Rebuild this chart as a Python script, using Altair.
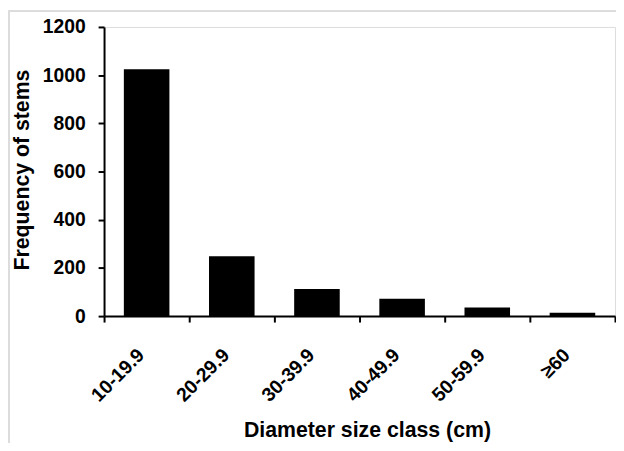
import altair as alt
import pandas as pd

classes = ["10-19.9", "20-29.9", "30-39.9", "40-49.9", "50-59.9", "≥60"]
stems = [1025, 248, 112, 72, 36, 14]
y_ticks = [0, 200, 400, 600, 800, 1000, 1200]

df = pd.DataFrame({"cls": classes, "n": stems})

FONT = "Liberation Sans"

bars = alt.Chart(df).mark_bar(color="black", width=alt.RelativeBandSize(0.535)).encode(
    x=alt.X(
        "cls:N",
        sort=classes,
        scale=alt.Scale(paddingInner=0, paddingOuter=0),
        axis=alt.Axis(
            title="Diameter size class (cm)",
            titleFont=FONT,
            titleFontSize=21.5,
            titleFontWeight="bold",
            titleColor="black",
            titleX=265.5,
            titleY=121.5,
            titleBaseline="alphabetic",
            labelFont=FONT,
            labelFontSize=19.5,
            labelFontWeight="bold",
            labelColor="black",
            labelAngle=-45,
            labelAlign="right",
            labelBaseline="middle",
            labelPadding=30,
            labelOffset=-6,
            tickBand="extent",
            tickSize=6,
            tickWidth=2,
            tickColor="black",
            domainColor="black",
            domainWidth=2,
            grid=False,
        ),
    ),
    y=alt.Y(
        "n:Q",
        scale=alt.Scale(domain=[0, 1200], nice=False),
        axis=alt.Axis(
            title="Frequency of stems",
            values=y_ticks,
            format="d",
            titleFont=FONT,
            titleFontSize=21.5,
            titleFontWeight="bold",
            titleColor="black",
            titleAngle=-90,
            titleX=-76,
            titleY=144,
            titleAlign="center",
            titleBaseline="alphabetic",
            labelFont=FONT,
            labelFontSize=19.5,
            labelFontWeight="bold",
            labelColor="black",
            labelPadding=13,
            tickSize=6,
            tickWidth=2,
            tickColor="black",
            domainColor="black",
            domainWidth=2,
            grid=False,
        ),
    ),
)

border = alt.Chart(df).mark_rule(color="#dcdcdc", strokeWidth=1.5).encode(
    x=alt.value(-96.25), x2=alt.value(520), y=alt.value(-16.25)
) + alt.Chart(df).mark_rule(color="#dcdcdc", strokeWidth=1.5).encode(
    x=alt.value(-96.25), y=alt.value(-16.25), y2=alt.value(420)
)

chart = (border + bars).properties(
    width=516,
    height=292,
    autosize=alt.AutoSizeParams(type="none"),
    padding={"left": 97, "top": 17, "right": 1, "bottom": 126},
).configure_view(stroke=None).configure(background="white")

chart.save("out.html", embed_options={"renderer": "svg", "actions": False})
